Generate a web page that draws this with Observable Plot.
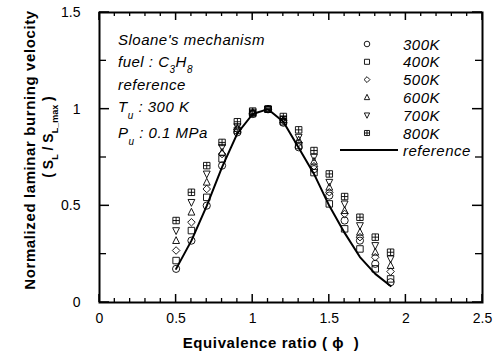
<!DOCTYPE html>
<html><head><meta charset="utf-8">
<script src="https://cdn.jsdelivr.net/npm/d3@7"></script>
<script src="https://cdn.jsdelivr.net/npm/@observablehq/plot@0.6"></script>
<style>
body{margin:0;background:#fff}
#chart{width:493px;height:361px}
</style>
</head><body><div id="chart"></div>
<script>
// ---- data ----
const phi  = [0.5, 0.6, 0.7, 0.8, 0.9, 1.0, 1.1, 1.2, 1.3, 1.4, 1.5, 1.6, 1.7, 1.8, 1.9];
const t300 = [0.174, 0.320, 0.501, 0.708, 0.880, 0.975, 1.0, 0.930, 0.803, 0.690, 0.553, 0.424, 0.320, 0.200, 0.105];
const t400 = [0.217, 0.372, 0.544, 0.743, 0.890, 0.977, 1.0, 0.935, 0.812, 0.672, 0.510, 0.381, 0.277, 0.174, 0.122];
const t500 = [0.269, 0.415, 0.587, 0.768, 0.895, 0.980, 1.0, 0.940, 0.825, 0.705, 0.570, 0.458, 0.338, 0.234, 0.160];
const t600 = [0.320, 0.467, 0.622, 0.777, 0.900, 0.982, 1.0, 0.945, 0.840, 0.730, 0.596, 0.475, 0.363, 0.260, 0.191];
const t700 = [0.372, 0.518, 0.665, 0.803, 0.910, 0.985, 1.0, 0.950, 0.855, 0.752, 0.622, 0.510, 0.398, 0.295, 0.226];
const t800 = [0.424, 0.570, 0.708, 0.828, 0.935, 0.990, 1.0, 0.962, 0.893, 0.786, 0.665, 0.548, 0.441, 0.338, 0.260];
const refLine = [0.174, 0.320, 0.500, 0.700, 0.875, 0.975, 1.0, 0.935, 0.800, 0.665, 0.500, 0.360, 0.235, 0.148, 0.085];
const seriesNames = ["300K", "400K", "500K", "600K", "700K", "800K"];
const refName = "reference";
const xTicks = [0, 0.5, 1, 1.5, 2, 2.5];
const xMinor = [0.1,0.2,0.3,0.4,0.6,0.7,0.8,0.9,1.1,1.2,1.3,1.4,1.6,1.7,1.8,1.9,2.1,2.2,2.3,2.4];
const yTicks = [0, 0.5, 1, 1.5];
const yMinor = [0.25, 0.75, 1.25];

// ---- symbols ----
const rOf = s => Math.sqrt(s / Math.PI);
const symCircle = {draw(c, s){const r = rOf(s); c.moveTo(r, 0); c.arc(0, 0, r, 0, 2*Math.PI);}};
const symSquare = {draw(c, s){const a = rOf(s)*0.9; c.moveTo(-a,-a); c.lineTo(a,-a); c.lineTo(a,a); c.lineTo(-a,a); c.closePath();}};
const symDiamond = {draw(c, s){const d = rOf(s)*1.05; c.moveTo(0,-d); c.lineTo(d,0); c.lineTo(0,d); c.lineTo(-d,0); c.closePath();}};
const symTriUp = {draw(c, s){const r = rOf(s); c.moveTo(0,-r*1.1); c.lineTo(r*0.95,r*0.8); c.lineTo(-r*0.95,r*0.8); c.closePath();}};
const symTriDown = {draw(c, s){const r = rOf(s); c.moveTo(0,r*1.1); c.lineTo(r*0.95,-r*0.8); c.lineTo(-r*0.95,-r*0.8); c.closePath();}};
const symBoxPlus = {draw(c, s){const a = rOf(s)*0.9; c.moveTo(-a,-a); c.lineTo(a,-a); c.lineTo(a,a); c.lineTo(-a,a); c.closePath(); c.moveTo(0,-a); c.lineTo(0,a); c.moveTo(-a,0); c.lineTo(a,0);}};
const symbols = [symCircle, symSquare, symDiamond, symTriUp, symTriDown, symBoxPlus];

const seriesValues = [t300, t400, t500, t600, t700, t800];
const pointData = seriesValues.map(vals => phi.map((p, i) => ({phi: p, v: vals[i]})));
const lineData = phi.map((p, i) => ({phi: p, v: refLine[i]}));

const font = "Liberation Sans, Arial, sans-serif";

const marks = [
  Plot.line(lineData, {x: "phi", y: "v", stroke: "black", strokeWidth: 2}),
  ...pointData.map((d, k) => Plot.dot(d, {x: "phi", y: "v", symbol: symbols[k], r: 3.6, stroke: "black", strokeWidth: 0.9, fill: "none"})),
  Plot.axisX(xTicks, {anchor: "bottom", tickSize: 0, tickPadding: 11, label: null, tickFormat: d => String(d), fontSize: 14}),
  Plot.axisY(yTicks, {anchor: "left", tickSize: 0, tickPadding: 19, label: null, tickFormat: d => String(d), fontSize: 14}),
  Plot.frame({stroke: "black", strokeWidth: 2})
];

const svg = Plot.plot({
  width: 493, height: 361,
  marginLeft: 99, marginRight: 11, marginTop: 12, marginBottom: 59,
  style: {fontFamily: font, fontSize: "14px", background: "#fff", color: "black", overflow: "visible"},
  x: {domain: [0, 2.5]},
  y: {domain: [0, 1.5]},
  marks
});
document.getElementById("chart").appendChild(svg);

// ---- inward ticks on all four sides, positioned through Plot's scales ----
const sx = svg.scale("x"), sy = svg.scale("y");
const [x0, x1] = sx.range, [y0, y1] = sy.range; // y0 bottom, y1 top
const s = d3.select(svg);
const tk = s.append("g").attr("stroke", "black");
function xt(vals, len, w) {
  vals.forEach(v => {
    const px = sx.apply(v);
    tk.append("line").attr("x1", px).attr("x2", px).attr("y1", y0).attr("y2", y0 - len).attr("stroke-width", w);
    tk.append("line").attr("x1", px).attr("x2", px).attr("y1", y1).attr("y2", y1 + len).attr("stroke-width", w);
  });
}
function yt(vals, len, w) {
  vals.forEach(v => {
    const py = sy.apply(v);
    tk.append("line").attr("y1", py).attr("y2", py).attr("x1", x0).attr("x2", x0 + len).attr("stroke-width", w);
    tk.append("line").attr("y1", py).attr("y2", py).attr("x1", x1).attr("x2", x1 - len).attr("stroke-width", w);
  });
}
xt(xTicks, 8, 1.5); xt(xMinor, 4, 1.3);
yt(yTicks, 10, 1.5); yt(yMinor, 7, 1.3);

// ---- annotations, titles and legend (layout in pixels) ----
const g = s.append("g").attr("font-family", font).attr("fill", "black").attr("text-anchor", "start");

function richText(parent, x, y, parts, attrs) {
  const t = parent.append("text").attr("x", x).attr("y", y);
  Object.entries(attrs || {}).forEach(([k, v]) => t.attr(k, v));
  parts.forEach(p => {
    const ts = t.append("tspan").text(p.t);
    if (p.sub) ts.attr("font-size", p.fs || "10px").attr("dy", p.dy || 6);
    else if (p.dy) ts.attr("dy", p.dy);
  });
  return t;
}

const ann = g.append("g").attr("font-style", "italic").attr("font-size", "15px").attr("letter-spacing", "0.5px");
richText(ann, 118, 45, [{t: "Sloane's mechanism"}]);
richText(ann, 118, 67, [{t: "fuel : C"}, {t: "3", sub: true}, {t: "H", dy: -6}, {t: "8", sub: true}]);
richText(ann, 118, 90, [{t: "reference"}]);
richText(ann, 118, 112, [{t: "T"}, {t: "u", sub: true, dy: 7}, {t: " : 300 K", dy: -7}]);
richText(ann, 118, 138, [{t: "P"}, {t: "u", sub: true, dy: 7}, {t: " : 0.1 MPa", dy: -7}]);

// legend
const leg = g.append("g");
seriesNames.forEach((name, i) => {
  const cy = 44 + i * 17.8;
  leg.append("path")
    .attr("transform", `translate(367,${cy})`)
    .attr("d", d3.symbol(symbols[i], Math.PI * 2.8 * 2.8)())
    .attr("fill", "none").attr("stroke", "black").attr("stroke-width", 0.9);
  leg.append("text").attr("x", 403).attr("y", cy + 5.5)
    .attr("font-style", "italic").attr("font-size", "15px").attr("letter-spacing", "0.5px").text(name);
});
leg.append("line").attr("x1", 340).attr("x2", 398).attr("y1", 150).attr("y2", 150)
  .attr("stroke", "black").attr("stroke-width", 2);
leg.append("text").attr("x", 403).attr("y", 155.5)
  .attr("font-style", "italic").attr("font-size", "15px").attr("letter-spacing", "0.5px").text(refName);

// axis titles
g.append("text").attr("x", 271).attr("y", 348).attr("text-anchor", "middle")
  .attr("font-weight", "bold").attr("font-size", "15px").attr("letter-spacing", "0.6px")
  .text("Equivalence ratio ( \u03D5  )");
richText(g, 0, 0, [{t: "Normalized laminar burning velocity"}],
  {"transform": "translate(35,150) rotate(-90)", "text-anchor": "middle", "font-weight": "bold", "font-size": "15px", "letter-spacing": "0.6px"});
richText(g, 0, 0, [{t: "( S"}, {t: "L", sub: true, fs: "9px", dy: 5}, {t: " / S", dy: -5}, {t: "L_max", sub: true, fs: "9px", dy: 5}, {t: " )", dy: -5}],
  {"transform": "translate(53,137) rotate(-90)", "text-anchor": "middle", "font-weight": "bold", "font-size": "14px"});
</script>
</body></html>
